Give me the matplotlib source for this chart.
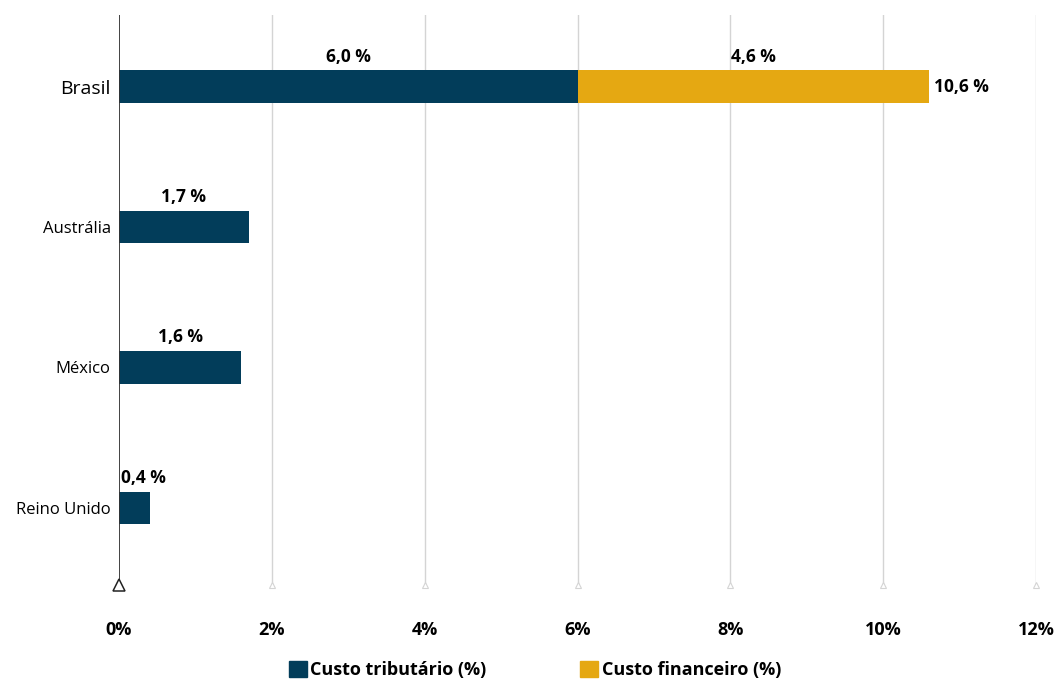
import matplotlib.pyplot as plt

plt.rcParams['font.family'] = ['Open Sans', 'DejaVu Sans']

countries = ['Brasil', 'Austrália', 'México', 'Reino Unido']
tributario = [6.0, 1.7, 1.6, 0.4]
financeiro = [4.6, 0.0, 0.0, 0.0]
xticks = [0, 2, 4, 6, 8, 10, 12]

navy = '#023d5a'
gold = '#e5a812'

fig = plt.figure(figsize=(10.56, 6.81), dpi=100)
ax = fig.add_axes([119 / 1056, 1 - 585 / 681, (1036 - 119) / 1056, 570 / 681])

ypos = list(range(len(countries)))
ax.barh(ypos, tributario, height=0.23, color=navy, zorder=3)
ax.barh(ypos, financeiro, left=tributario, height=0.23, color=gold, zorder=3)

ax.set_xlim(0, 12)
ax.set_ylim(3.55, -0.51)

lbl = dict(fontsize=12.5, fontweight='bold', zorder=4)
for i in ypos:
    t = tributario[i]
    f = financeiro[i]
    if t < 1:
        ax.text(0.03, i - 0.15, f'{t:.1f} %'.replace('.', ','), ha='left', va='bottom', **lbl)
    else:
        ax.text(t / 2, i - 0.15, f'{t:.1f} %'.replace('.', ','), ha='center', va='bottom', **lbl)
    if f > 0:
        ax.text(t + f / 2, i - 0.15, f'{f:.1f} %'.replace('.', ','), ha='center', va='bottom', **lbl)
        ax.text(t + f + 0.06, i, f'{t + f:.1f} %'.replace('.', ','), ha='left', va='center', **lbl)

ax.set_yticks(ypos)
ax.set_yticklabels(countries)
for k, lab in enumerate(ax.get_yticklabels()):
    lab.set_fontsize(14 if k == 0 else 12)
ax.tick_params(axis='y', length=0, pad=6)

ax.set_xticks(xticks)
ax.set_xticklabels([f'{v}%' for v in xticks], fontweight='bold', fontsize=13)
ax.tick_params(axis='x', length=0, pad=26)

for s in ['top', 'right', 'bottom', 'left']:
    ax.spines[s].set_visible(False)

for v in xticks[1:]:
    ax.axvline(v, color='#d4d4d4', lw=1, zorder=1)
ax.plot(xticks[1:], [3.55] * (len(xticks) - 1), linestyle='none', marker='^',
        markersize=5, markerfacecolor='white', markeredgecolor='#d4d4d4',
        markeredgewidth=0.8, clip_on=False, zorder=2)
ax.axvline(0, color='#333333', lw=1.3, zorder=4)
ax.plot([0], [3.55], linestyle='none', marker='^', markersize=8,
        markerfacecolor='white', markeredgecolor='#222222', markeredgewidth=1.1,
        clip_on=False, zorder=5)

handles = [plt.Rectangle((0, 0), 1, 1, color=navy), plt.Rectangle((0, 0), 1, 1, color=gold)]
fig.legend(handles, ['Custo tributário (%)', 'Custo financeiro (%)'],
           loc='center', bbox_to_anchor=(535 / 1056, 1 - 670 / 681), ncol=2,
           frameon=False, handlelength=1.0, handleheight=1.0, handletextpad=0.2,
           columnspacing=5.2, prop={'weight': 'bold', 'size': 13})

fig.savefig('out.png', dpi=100)
